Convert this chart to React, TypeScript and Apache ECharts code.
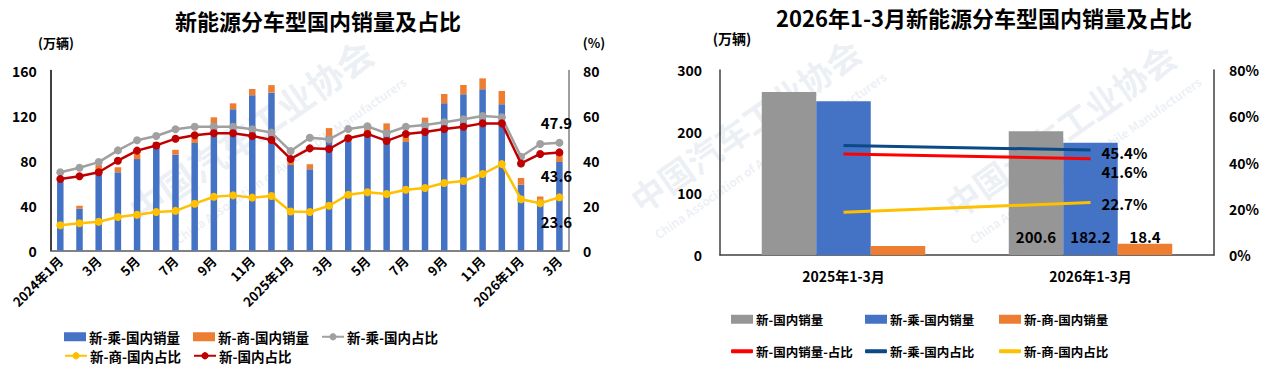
import React, { useEffect, useRef } from "react";
import * as echarts from "echarts";

const FONT = '"Noto Sans CJK SC", "Noto Sans", sans-serif';

// ---- Left chart data ----
const months = [
  "2024年1月", "2月", "3月", "4月", "5月", "6月", "7月", "8月", "9月", "10月", "11月", "12月",
  "2025年1月", "2月", "3月", "4月", "5月", "6月", "7月", "8月", "9月", "10月", "11月", "12月",
  "2026年1月", "2月", "3月",
];
const passengerSales = [
  61.2, 37.2, 68, 69.5, 81.3, 91.5, 85.2, 95.6, 113, 125.5, 138, 140.3,
  76, 72.2, 101.8, 97, 104, 107, 96.5, 113.6, 130.8, 138.8, 143.3, 130,
  58.5, 45, 78.7,
];
const commercialSales = [
  2, 2.6, 8, 4.5, 4.5, 5, 4.3, 4.5, 5.4, 5.3, 5.6, 6.7,
  4.5, 4.5, 7, 5.5, 5.5, 6, 4.5, 4.5, 8.3, 8.3, 9.7, 11.8,
  6, 3, 9.4,
];
const passengerShare = [
  34.8, 36.8, 39.3, 44.5, 49.0, 50.9, 53.9, 55.0, 55.0, 55.0, 53.9, 52.4,
  44.2, 50.1, 49.4, 54.0, 55.2, 52.1, 55.0, 55.8, 57.0, 58.3, 59.8, 59.2,
  41.7, 47.3, 47.9,
];
const commercialShare = [
  11.2, 12.1, 12.8, 14.9, 15.9, 17.1, 17.6, 20.8, 23.9, 24.5, 23.5, 24.2,
  17.3, 17.1, 19.9, 24.8, 25.9, 25.1, 27.0, 27.8, 30.0, 30.9, 34.0, 38.4,
  22.8, 21.0, 23.6,
];
const totalShare = [
  31.8, 33.0, 34.8, 39.9, 44.4, 46.7, 49.7, 51.2, 52.1, 52.1, 50.9, 49.1,
  40.7, 45.4, 45.1, 49.9, 51.8, 48.7, 51.8, 52.7, 54.0, 55.0, 56.5, 56.5,
  38.7, 42.9, 43.6,
];

// ---- Right chart data ----
const periods = ["2025年1-3月", "2026年1-3月"];
const q1Total = [264.3, 200.6];
const q1Passenger = [249.2, 182.2];
const q1Commercial = [14.6, 18.4];
const q1TotalShare = [43.7, 41.6];
const q1PassengerShare = [47.4, 45.4];
const q1CommercialShare = [18.5, 22.7];

const C = {
  blue: "#4472C4",
  orange: "#ED7D31",
  grayLine: "#A0A0A0",
  yellow: "#FFC000",
  darkRed: "#C00000",
  grayBar: "#969696",
  red: "#FF0000",
  navy: "#0B4A86",
};

const boldText = (size: number) => ({
  fontFamily: FONT,
  fontSize: size,
  fontWeight: "bold" as const,
  color: "#000",
});

const legendItem = (name: string, x: number, yc: number, fs: number, icon?: string, h = 9) => ({
  data: [icon ? { name, icon } : name],
  left: x,
  top: yc - 8,
  padding: 0,
  itemWidth: 22,
  itemHeight: h,
  itemGap: 0,
  selectedMode: false,
  textStyle: { ...boldText(fs), padding: [0, 0, 0, -2] },
});

const lastLabel = (arr: number[], pos: string, offset: number[]) =>
  arr.map((v, i) =>
    i === arr.length - 1
      ? {
          value: v,
          label: {
            show: true,
            position: pos,
            distance: 5,
            offset,
            ...boldText(15),
          },
        }
      : v
  );

const gtext = (text: string, x: number, y: number, font: string, fill = "#000", rotation = 0) => ({
  type: "text",
  x,
  y,
  rotation,
  silent: true,
  style: {
    text,
    font,
    fill,
    textAlign: "center",
    align: "center",
    textVerticalAlign: "middle",
    verticalAlign: "middle",
  },
});

const WM = "rgba(190,202,220,0.28)";
const ang = (35 * Math.PI) / 180;

const endLabel = (offset: number[]) => ({
  show: true,
  distance: 11,
  offset,
  formatter: (p: any) => `${p.value}%`,
  ...boldText(15),
});

const option: any = {
  animation: false,
  backgroundColor: "#fff",
  textStyle: { fontFamily: FONT },
  graphic: [
    gtext("中国汽车工业协会", 250, 130, `bold 36px ${FONT}`, WM, ang),
    gtext("China Association of Automobile Manufacturers", 290, 160, `bold 12px ${FONT}`, WM, ang),
    gtext("中国汽车工业协会", 745, 125, `bold 34px ${FONT}`, WM, ang),
    gtext("China Association of Automobile Manufacturers", 770, 155, `bold 12px ${FONT}`, WM, ang),
    gtext("中国汽车工业协会", 1060, 130, `bold 34px ${FONT}`, WM, ang),
    gtext("China Association of Automobile Manufacturers", 1085, 160, `bold 12px ${FONT}`, WM, ang),
    gtext("新能源分车型国内销量及占比", 318, 20, `bold 22px ${FONT}`),
    gtext("2026年1-3月新能源分车型国内销量及占比", 984, 17, `bold 22px ${FONT}`),
    gtext("(万辆)", 56, 42, `bold 13px ${FONT}`),
    gtext("(%)", 594, 42, `bold 13px ${FONT}`),
    gtext("(万辆)", 732, 38, `bold 14px ${FONT}`),
  ],
  legend: [
    legendItem("新-乘-国内销量", 64, 338, 13.5, "rect"),
    legendItem("新-商-国内销量", 193, 338, 13.5, "rect"),
    legendItem("新-乘-国内占比", 321, 338, 13.5),
    legendItem("新-商-国内占比", 64, 357, 13.5),
    legendItem("新-国内占比", 193, 357, 13.5),
    legendItem("新-国内销量", 731, 321, 12.5, "rect"),
    legendItem("新-乘-国内销量 ", 865, 321, 12.5, "rect"),
    legendItem("新-商-国内销量 ", 999, 321, 12.5, "rect"),
    legendItem("新-国内销量-占比", 731, 353, 12.5, "roundRect", 4),
    legendItem("新-乘-国内占比 ", 865, 353, 12.5, "roundRect", 4),
    legendItem("新-商-国内占比 ", 999, 353, 12.5, "roundRect", 4),
  ],
  grid: [
    { left: 50.7, top: 70.5, width: 518.3, height: 180 },
    { left: 720, top: 70, width: 494, height: 185 },
  ],
  xAxis: [
    {
      type: "category",
      gridIndex: 0,
      data: months,
      boundaryGap: true,
      axisLine: { lineStyle: { color: "#595959", width: 1.5 } },
      axisTick: { show: false },
      axisLabel: { ...boldText(13), rotate: 45, interval: 1, margin: 8 },
    },
    {
      type: "category",
      gridIndex: 1,
      data: periods,
      axisLine: { lineStyle: { color: "#404040", width: 1.5 } },
      axisTick: { show: false },
      axisLabel: { ...boldText(14), margin: 14 },
    },
  ],
  yAxis: [
    {
      type: "value",
      gridIndex: 0,
      min: 0,
      max: 160,
      interval: 40,
      axisLine: { show: true, lineStyle: { color: "#000", width: 1.5 } },
      axisTick: { show: false },
      splitLine: { show: false },
      axisLabel: { ...boldText(14), margin: 14 },
    },
    {
      type: "value",
      gridIndex: 0,
      position: "right",
      min: 0,
      max: 80,
      interval: 20,
      axisLine: { show: true, lineStyle: { color: "#7F7F7F", width: 1.5 } },
      axisTick: { show: false },
      splitLine: { show: false },
      axisLabel: { ...boldText(14), margin: 14 },
    },
    {
      type: "value",
      gridIndex: 1,
      min: 0,
      max: 300,
      interval: 100,
      axisLine: { show: true, lineStyle: { color: "#404040", width: 1.5 } },
      axisTick: { show: false },
      splitLine: { show: false },
      axisLabel: { ...boldText(14), margin: 18 },
    },
    {
      type: "value",
      gridIndex: 1,
      position: "right",
      min: 0,
      max: 80,
      interval: 20,
      axisLine: { show: true, lineStyle: { color: "#404040", width: 1.5 } },
      axisTick: { show: false },
      splitLine: { show: false },
      axisLabel: { ...boldText(14), margin: 15, formatter: "{value}%" },
    },
  ],
  series: [
    {
      name: "新-乘-国内销量",
      type: "bar",
      xAxisIndex: 0,
      yAxisIndex: 0,
      stack: "sales",
      barWidth: 6.5,
      itemStyle: { color: C.blue },
      data: passengerSales,
    },
    {
      name: "新-商-国内销量",
      type: "bar",
      xAxisIndex: 0,
      yAxisIndex: 0,
      stack: "sales",
      barWidth: 6.5,
      itemStyle: { color: C.orange },
      data: commercialSales,
    },
    {
      name: "新-乘-国内占比",
      type: "line",
      xAxisIndex: 0,
      yAxisIndex: 1,
      symbol: "circle",
      symbolSize: 8,
      lineStyle: { color: C.grayLine, width: 2.5 },
      itemStyle: { color: C.grayLine },
      data: lastLabel(passengerShare, "top", [-3, -4]),
      z: 3,
    },
    {
      name: "新-商-国内占比",
      type: "line",
      xAxisIndex: 0,
      yAxisIndex: 1,
      symbol: "circle",
      symbolSize: 8,
      lineStyle: { color: C.yellow, width: 2.5 },
      itemStyle: { color: C.yellow },
      data: lastLabel(commercialShare, "bottom", [-3, 7.5]),
      z: 3,
    },
    {
      name: "新-国内占比",
      type: "line",
      xAxisIndex: 0,
      yAxisIndex: 1,
      symbol: "circle",
      symbolSize: 8,
      lineStyle: { color: C.darkRed, width: 2.5 },
      itemStyle: { color: C.darkRed },
      data: lastLabel(totalShare, "bottom", [-3, 6.5]),
      z: 4,
    },
    // Right chart
    {
      name: "新-国内销量",
      type: "bar",
      xAxisIndex: 1,
      yAxisIndex: 2,
      barWidth: 54.5,
      barGap: "0%",
      itemStyle: { color: C.grayBar },
      data: q1Total.map((v, i) =>
        i === 1 ? { value: v, label: { show: true, position: "insideBottom", distance: 11, ...boldText(15) } } : v
      ),
    },
    {
      name: "新-乘-国内销量 ",
      type: "bar",
      xAxisIndex: 1,
      yAxisIndex: 2,
      barWidth: 54.5,
      barGap: "0%",
      itemStyle: { color: C.blue },
      data: q1Passenger.map((v, i) =>
        i === 1 ? { value: v, label: { show: true, position: "insideBottom", distance: 11, ...boldText(15) } } : v
      ),
    },
    {
      name: "新-商-国内销量 ",
      type: "bar",
      xAxisIndex: 1,
      yAxisIndex: 2,
      barWidth: 54.5,
      barGap: "0%",
      itemStyle: { color: C.orange },
      data: q1Commercial.map((v, i) =>
        i === 1 ? { value: v, label: { show: true, position: "top", distance: 0, ...boldText(15) } } : v
      ),
    },
    {
      name: "新-国内销量-占比",
      type: "line",
      xAxisIndex: 1,
      yAxisIndex: 3,
      symbol: "none",
      lineStyle: { color: C.red, width: 3 },
      itemStyle: { color: C.red },
      endLabel: endLabel([0, 12.5]),
      data: q1TotalShare,
      z: 5,
    },
    {
      name: "新-乘-国内占比 ",
      type: "line",
      xAxisIndex: 1,
      yAxisIndex: 3,
      symbol: "none",
      lineStyle: { color: C.navy, width: 3 },
      itemStyle: { color: C.navy },
      endLabel: endLabel([0, 2]),
      data: q1PassengerShare,
      z: 5,
    },
    {
      name: "新-商-国内占比 ",
      type: "line",
      xAxisIndex: 1,
      yAxisIndex: 3,
      symbol: "none",
      lineStyle: { color: C.yellow, width: 3 },
      itemStyle: { color: C.yellow },
      endLabel: endLabel([0, 1]),
      data: q1CommercialShare,
      z: 5,
    },
  ],
};

export default function App() {
  const ref = useRef<HTMLDivElement>(null);
  useEffect(() => {
    if (!ref.current) return;
    const chart = echarts.init(ref.current, null, { renderer: "svg" });
    chart.setOption(option);
    return () => chart.dispose();
  }, []);
  return (
    <div
      ref={ref}
      style={{ position: "fixed", left: 0, top: 0, width: 1270, height: 365, background: "#fff" }}
    />
  );
}
